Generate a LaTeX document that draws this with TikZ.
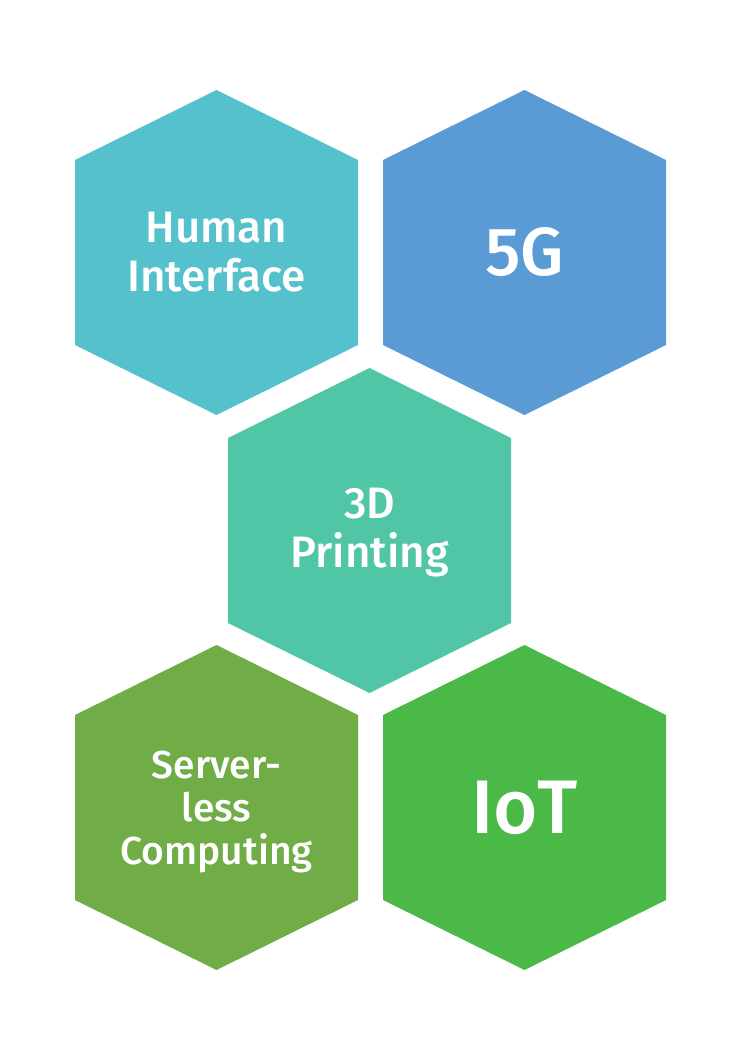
\documentclass[tikz,border=0pt]{standalone}
\usepackage{fontspec}
\setmainfont{Fira Sans}[UprightFont=* Medium]
\definecolor{hexA}{HTML}{54C1CD}
\definecolor{hexB}{HTML}{5B9BD5}
\definecolor{hexC}{HTML}{51C6A7}
\definecolor{hexD}{HTML}{70AD47}
\definecolor{hexE}{HTML}{4AB947}
\newcommand\hexpath[3]{%
  \fill[#3] (#1,#2) +(0,-162.5) -- +(141.5,-92.5) -- +(141.5,92.5) -- +(0,162.5) -- +(-141.5,92.5) -- +(-141.5,-92.5) -- cycle;}
\tikzset{
  hexlabel/.style={text=white, align=center, inner sep=0pt},
}
\begin{document}
\begin{tikzpicture}[x=1pt,y=-1pt]
\useasboundingbox[fill=white] (0,0) rectangle (745,1054);
\hexpath{216.5}{252.5}{hexA}
\hexpath{524.5}{252.5}{hexB}
\hexpath{369.5}{530.5}{hexC}
\hexpath{216.5}{807.5}{hexD}
\hexpath{524.5}{807.5}{hexE}
\node[hexlabel, font=\fontsize{44}{49}\selectfont] (hi) at (216.5,252.5) {Human\\Interface};
\node[hexlabel, font=\fontsize{68}{75}\selectfont] (fg) at (524.5,252.5) {5G};
\node[hexlabel, font=\fontsize{44}{49}\selectfont] (dp) at (369.5,533) {3D\\Printing};
\node[hexlabel, font=\fontsize{39}{43}\selectfont] (sc) at (216.5,812) {Server-\\less\\Computing};
\node[hexlabel, font=\fontsize{76}{82}\selectfont] (iot) at (524.5,807.5) {IoT};
\end{tikzpicture}
\end{document}
